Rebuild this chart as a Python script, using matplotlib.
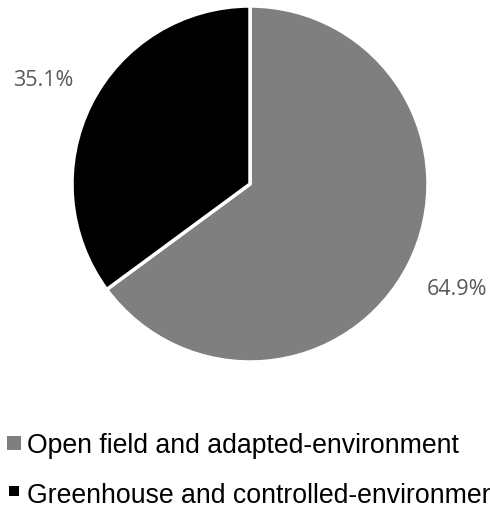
import matplotlib
matplotlib.use("Agg")
import matplotlib.pyplot as plt
from matplotlib.patches import Rectangle

labels = ["Open field and adapted-environment", "Greenhouse and controlled-environment"]
shares = [64.9, 35.1]
colors = ["#7f7f7f", "#000000"]

W, H = 490, 506
fig = plt.figure(figsize=(W / 100, H / 100), dpi=100)

# pie centred at (250, 185) px, radius ~178 px
r = 178
ax = fig.add_axes([(250 - r) / W, (H - 185 - r) / H, 2 * r / W, 2 * r / H])
wedges, texts, autotexts = ax.pie(
    shares, colors=colors, startangle=90, counterclock=False,
    autopct="%.1f%%", pctdistance=1.3,
    wedgeprops=dict(edgecolor="white", linewidth=2.5),
    textprops=dict(color="#595959", fontsize=15.5, family="Open Sans"),
)
ax.set_xlim(-1, 1)
ax.set_ylim(-1, 1)
ax.set_aspect("equal")
ax.axis("off")

# legend entries drawn by hand (text runs past the right edge like the original)
rows = [(453, 437, 7, 14), (503, 487, 9, 10)]
for (base, top, x0, size), lab, c in zip(rows, labels, colors):
    fig.text(27 / W, (H - base) / H, lab, fontsize=19.2, family="Liberation Sans",
             color="#000000", va="baseline", ha="left")
    fig.patches.append(Rectangle((x0 / W, (H - top - size) / H), size / W, size / H,
                                 transform=fig.transFigure, facecolor=c, edgecolor="none"))

fig.savefig("out.png", dpi=100)
